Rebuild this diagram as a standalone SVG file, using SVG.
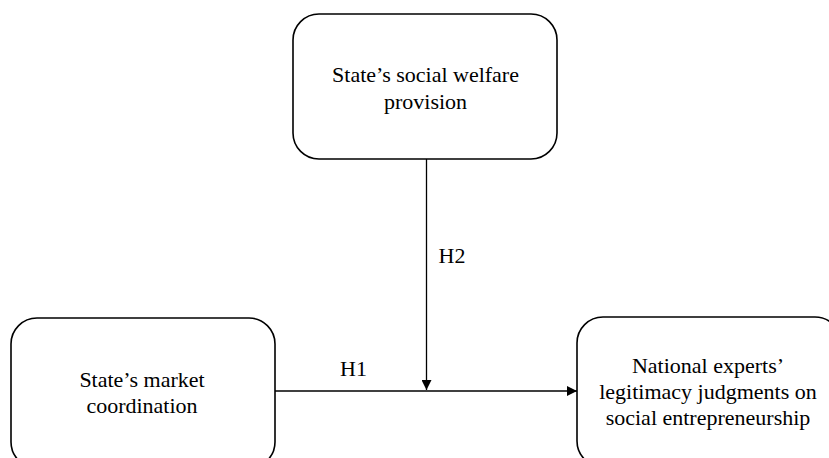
<svg xmlns="http://www.w3.org/2000/svg" width="829" height="458" viewBox="0 0 829 458">
<style>
.box{fill:#fff;stroke:#000;stroke-width:1.6}
.t{font-family:'Liberation Serif','Times New Roman',serif;font-size:22px;fill:#000;text-anchor:middle}
.ln{stroke:#000;stroke-width:1.3;fill:none}
</style>
<defs>
<marker id="ah" viewBox="0 0 10 10" refX="10" refY="5" markerWidth="10" markerHeight="10" markerUnits="userSpaceOnUse" orient="auto">
<path d="M0,0 L10,5 L0,10 z" fill="#000"/>
</marker>
</defs>
<rect width="829" height="458" fill="#fff"/>
<g id="connectors">
<line class="ln" x1="275" y1="391" x2="577" y2="391" marker-end="url(#ah)"/>
<line class="ln" x1="426.5" y1="159" x2="426.5" y2="390" marker-end="url(#ah)"/>
<text class="t" x="353.5" y="376">H1</text>
<text class="t" x="452" y="263">H2</text>
</g>
<g id="node-welfare">
<rect class="box" x="293" y="14" width="264" height="145" rx="26"/>
<text class="t" x="425.5" y="82">State’s social welfare</text>
<text class="t" x="425.5" y="109">provision</text>
</g>
<g id="node-market">
<rect class="box" x="11" y="318" width="264" height="150" rx="26"/>
<text class="t" x="142" y="387">State’s market</text>
<text class="t" x="142" y="413">coordination</text>
</g>
<g id="node-legitimacy">
<rect class="box" x="577" y="317" width="264" height="150" rx="26"/>
<text class="t" x="708" y="373">National experts’</text>
<text class="t" x="708" y="399">legitimacy judgments on</text>
<text class="t" x="708" y="425">social entrepreneurship</text>
</g>
</svg>
